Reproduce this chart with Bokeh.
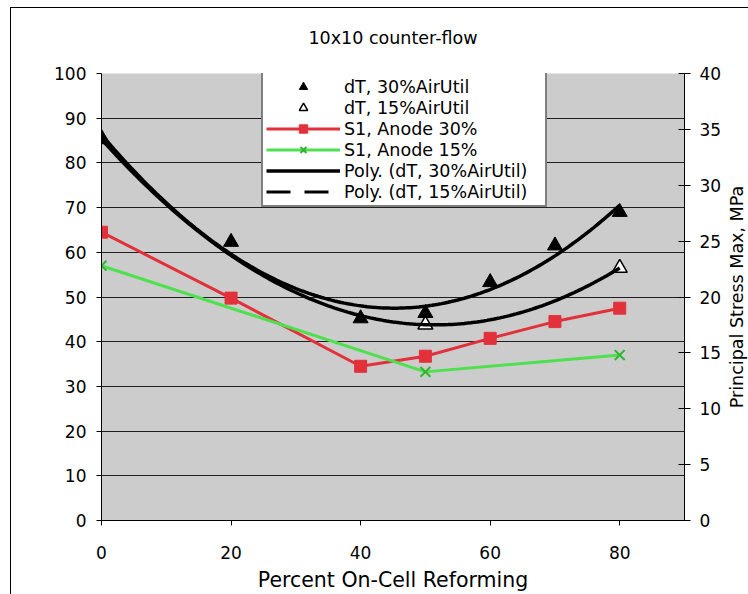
import numpy as np
from bokeh.plotting import figure
from bokeh.layouts import row
from bokeh.models import (Range1d, LinearAxis, FixedTicker, Legend, LegendItem, Title)
from bokeh.embed import file_html
from bokeh.resources import INLINE

# ---- data ----
x_dt30 = [0, 20, 40, 50, 60, 70, 80]
dt30 = [85.6, 62.3, 45.2, 46.4, 53.3, 61.5, 69.0]
x_dt15 = [0, 50, 80]
dt15 = [85.3, 43.8, 56.5]
x_s1_30 = [0, 20, 40, 50, 60, 70, 80]
s1_30 = [25.8, 19.9, 13.8, 14.7, 16.3, 17.8, 19.0]
x_s1_15 = [0, 50, 80]
s1_15 = [22.8, 13.3, 14.8]
x_ticks = [0, 20, 40, 60, 80]
left_ticks = list(range(0, 101, 10))
right_ticks = list(range(0, 41, 5))

# polynomial (order 2) trendlines fitted to the dT series, like Excel's "Poly." trendline
xs = np.linspace(0, 80, 161)
poly30 = np.polyval(np.polyfit(x_dt30, dt30, 2), xs)
poly15 = np.polyval(np.polyfit(x_dt15, dt15, 2), xs)

FONT = "DejaVu Sans"
RED = "#E2313B"
GREEN_LINE = "#4FE04F"
GREEN_MARK = "#2DB52D"

p = figure(width=724, height=594, output_backend="svg", toolbar_location=None,
           x_range=Range1d(0, 90), y_range=Range1d(0, 100),
           min_border_left=101, min_border_right=39, min_border_top=73, min_border_bottom=74,
           background_fill_color="#CCCCCC", border_fill_color=None, outline_line_color=None)
p.styles = {"background": "linear-gradient(#000,#000) 10px 7px / 1px 700px no-repeat, "
                          "linear-gradient(#000,#000) 10px 7px / 900px 1px no-repeat, #ffffff"}

p.title.text = "10x10 counter-flow"
p.title.align = "center"
p.title.text_font = FONT
p.title.text_font_style = "normal"
p.title.text_font_size = "17.5px"
p.title.text_color = "black"
p.title.standoff = 51

p.xaxis.ticker = FixedTicker(ticks=x_ticks)
p.yaxis.ticker = FixedTicker(ticks=left_ticks)
p.xaxis.axis_label = "Percent On-Cell Reforming"

p.extra_y_ranges = {"right": Range1d(0, 40)}
raxis = LinearAxis(y_range_name="right", ticker=FixedTicker(ticks=right_ticks))
p.add_layout(raxis, "right")

for ax in p.xaxis + p.yaxis:
    ax.axis_line_color = "black"
    ax.axis_line_width = 1
    ax.major_tick_line_color = "black"
    ax.major_tick_in = 0
    ax.major_tick_out = 5
    ax.minor_tick_line_color = None
    ax.major_label_text_font = FONT
    ax.major_label_text_font_size = "17px"
    ax.major_label_text_color = "black"
    ax.major_label_standoff = 10
    ax.axis_label_text_font = FONT
    ax.axis_label_text_font_style = "normal"
    ax.axis_label_text_font_size = "20.5px"
    ax.axis_label_text_color = "black"
raxis.major_tick_in = 6
raxis.major_tick_out = 6
raxis.major_label_standoff = 9
p.xaxis.major_label_standoff = 20
p.xaxis.axis_label_standoff = 6

p.xgrid.visible = False
p.ygrid.ticker = FixedTicker(ticks=left_ticks)
p.ygrid.grid_line_color = "black"
p.ygrid.grid_line_alpha = 0.85
p.ygrid.grid_line_width = 1

# ---- renderers ----
open_tri = p.scatter(x_dt15, dt15, marker="triangle", size=15, fill_color="white",
                     line_color="black", line_width=1.5)
filled_tri = p.scatter(x_dt30, dt30, marker="triangle", size=15, fill_color="black",
                       line_color="black")
red_line = p.line(x_s1_30, s1_30, y_range_name="right", line_color=RED, line_width=3)
red_sq = p.scatter(x_s1_30, s1_30, y_range_name="right", marker="square", size=12,
                   fill_color=RED, line_color=RED)
green_line = p.line(x_s1_15, s1_15, y_range_name="right", line_color=GREEN_LINE, line_width=3)
green_x = p.scatter(x_s1_15, s1_15, y_range_name="right", marker="x", size=14,
                    line_color=GREEN_MARK, line_width=2)
curve30 = p.line(xs, poly30, line_color="black", line_width=3.5)
curve15 = p.line(xs, poly15, line_color="black", line_width=3.5)
# legend key for the 15% trendline (single point -> draws nothing in the plot)
dash_key = p.line(x_dt15[:1], dt15[:1], line_color="black", line_width=3, line_dash="24 14")

legend = Legend(items=[
    LegendItem(label="dT, 30%AirUtil", renderers=[filled_tri]),
    LegendItem(label="dT, 15%AirUtil", renderers=[open_tri]),
    LegendItem(label="S1, Anode 30%", renderers=[red_line, red_sq]),
    LegendItem(label="S1, Anode 15%", renderers=[green_line, green_x]),
    LegendItem(label="Poly. (dT, 30%AirUtil)", renderers=[curve30]),
    LegendItem(label="Poly. (dT, 15%AirUtil)", renderers=[dash_key]),
], location=(160, 313))
legend.background_fill_color = "white"
legend.background_fill_alpha = 1
legend.border_line_color = "black"
legend.border_line_width = 2
legend.label_text_font = FONT
legend.label_text_font_size = "17.5px"
legend.label_text_color = "black"
legend.glyph_width = 74
legend.glyph_height = 21
legend.label_height = 20
legend.spacing = 0
legend.padding = 3
legend.margin = 0
legend.label_standoff = 4
legend.label_width = 198
p.add_layout(legend, "center")

# narrow strip on the right carrying the secondary axis title (reads bottom-to-top)
side = figure(width=24, height=594, output_backend="svg", toolbar_location=None,
              x_axis_type=None, y_axis_type=None, outline_line_color=None,
              border_fill_color=None, background_fill_color=None,
              min_border_left=0, min_border_right=0, min_border_top=0, min_border_bottom=26)
side.styles = {"background": "linear-gradient(#000,#000) 0 7px / 100% 1px no-repeat, #ffffff"}
side.xgrid.visible = False
side.ygrid.visible = False
side.add_layout(Title(text="Principal Stress Max, MPa", align="center", text_font=FONT,
                      text_font_style="normal", text_font_size="17.5px",
                      text_color="black", standoff=0), "left")

layout = row(p, side)
layout.spacing = 0

open("out.html", "w").write(file_html(layout, INLINE))
